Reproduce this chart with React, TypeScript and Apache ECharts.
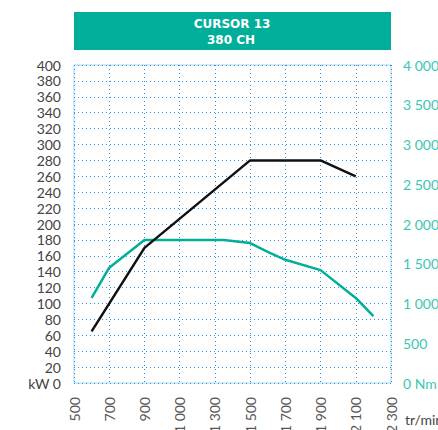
import React, { useEffect, useRef } from "react";
import * as echarts from "echarts";

const TITLE_LINES = ["CURSOR 13", "380 CH"];
const X_START = 500;
const X_LABELS = ["500", "700", "900", "1 000", "1 300", "1 500", "1 700", "1 900", "2 100", "2 300"];
const POWER_RPM = [600, 900, 1500, 1900, 2100];
const POWER_KW = [65, 170, 280, 280, 260];
const TORQUE_RPM = [600, 700, 900, 1350, 1500, 1600, 1700, 1900, 2100, 2200];
const TORQUE_NM = [1070, 1450, 1800, 1800, 1760, 1650, 1550, 1420, 1070, 840];

const TEAL = "#00ae9a";
const TEAL_TEXT = "#3cc6b3";
const GRID_BLUE = "#2f95d6";
const FRAME = "#a9d3ee";
const FONT = "Lato, 'Open Sans', sans-serif";
const TITLE_FONT = "'DejaVu Sans', Verdana, sans-serif";

export default function App() {
  const ref = useRef<HTMLDivElement>(null);
  useEffect(() => {
    if (!ref.current) return;
    const chart = echarts.init(ref.current, null, { renderer: "svg" });
    const fmtThousands = (v: number) => {
      const s = String(v);
      return s.length > 3 ? s.slice(0, s.length - 3) + " " + s.slice(-3) : s;
    };
    chart.setOption({
      animation: false,
      backgroundColor: "#fff",
      grid: {
        left: 74,
        right: 47,
        top: 65,
        bottom: 47,
        show: true,
        borderColor: FRAME,
        borderWidth: 1,
        backgroundColor: "transparent",
        containLabel: false,
        outerBoundsMode: "none",
      },
      graphic: [
        { type: "rect", shape: { x: 74, y: 12, width: 317, height: 38 }, style: { fill: TEAL } },
        {
          type: "text",
          x: 232,
          y: 23.5,
          style: { text: TITLE_LINES[0], fill: "#fff", font: `bold 12px ${TITLE_FONT}`, align: "center", verticalAlign: "middle" },
        },
        {
          type: "text",
          x: 231,
          y: 40,
          style: { text: TITLE_LINES[1], fill: "#fff", font: `bold 12px ${TITLE_FONT}`, align: "center", verticalAlign: "middle" },
        },
        {
          type: "text",
          x: 405,
          y: 426,
          style: { text: "tr/min", fill: "#444", font: `14px ${FONT}`, align: "left", verticalAlign: "bottom" },
        },
      ],
      xAxis: {
        type: "value",
        min: 0,
        max: 1800,
        interval: 200,
        axisLine: { show: false },
        axisTick: { show: false },
        splitLine: { show: true, lineStyle: { color: GRID_BLUE, type: [1, 3], width: 1 } },
        axisLabel: {
          rotate: 90,
          margin: 14,
          color: "#555",
          fontFamily: FONT,
          fontSize: 14,
          formatter: (v: number) => X_LABELS[Math.round(v / 200)] ?? "",
        },
      },
      yAxis: [
        {
          type: "value",
          min: 0,
          max: 400,
          interval: 20,
          axisLine: { show: false },
          axisTick: { show: false },
          splitLine: { show: true, lineStyle: { color: GRID_BLUE, type: [1, 3], width: 1 } },
          axisLabel: {
            margin: 13,
            color: "#444",
            fontFamily: FONT,
            fontSize: 14,
            formatter: (v: number) => (v === 0 ? "kW 0" : String(v)),
          },
        },
        {
          type: "value",
          min: 0,
          max: 4000,
          interval: 500,
          position: "right",
          axisLine: { show: false },
          axisTick: { show: false },
          splitLine: { show: false },
          axisLabel: {
            margin: 12,
            color: TEAL_TEXT,
            fontFamily: FONT,
            fontSize: 14,
            formatter: (v: number) => (v === 0 ? "0 Nm" : fmtThousands(v)),
          },
        },
      ],
      series: [
        {
          type: "line",
          name: "Puissance",
          yAxisIndex: 0,
          data: POWER_RPM.map((r, i) => [r - X_START, POWER_KW[i]]),
          symbol: "none",
          lineStyle: { color: "#111", width: 2.5 },
          z: 3,
        },
        {
          type: "line",
          name: "Couple",
          yAxisIndex: 1,
          data: TORQUE_RPM.map((r, i) => [r - X_START, TORQUE_NM[i]]),
          symbol: "none",
          lineStyle: { color: TEAL, width: 2.5 },
          z: 2,
        },
      ],
    });
    return () => chart.dispose();
  }, []);
  return <div ref={ref} style={{ width: 438, height: 430, position: "fixed", left: 0, top: 0 }} />;
}
